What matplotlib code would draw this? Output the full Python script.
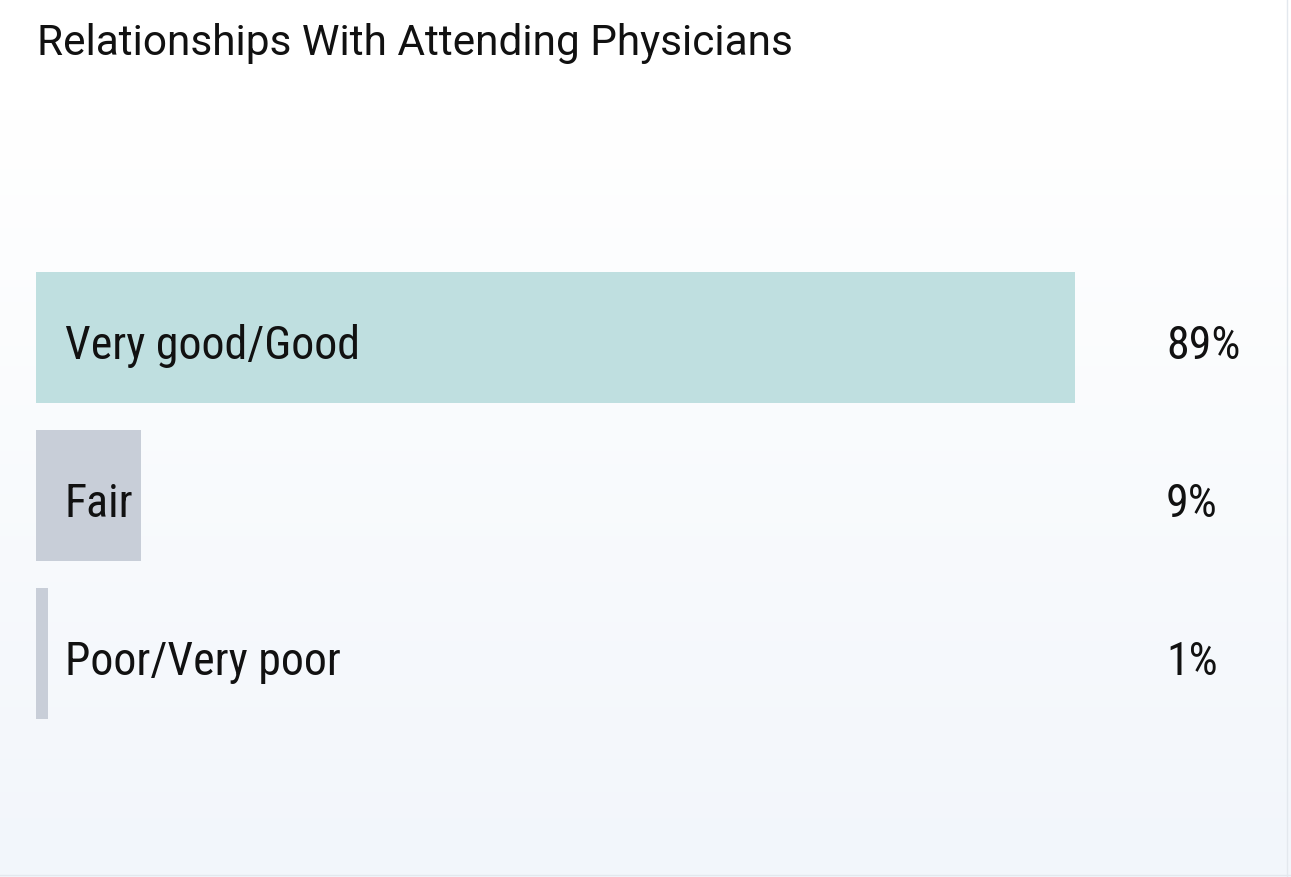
import numpy as np
import matplotlib
matplotlib.use("Agg")
import matplotlib.pyplot as plt

title = "Relationships With Attending Physicians"
categories = ["Very good/Good", "Fair", "Poor/Very poor"]
values = [89, 9, 1]
value_labels = ["89%", "9%", "1%"]
bar_colors = ["#bfdfe0", "#c8ced8", "#c8ced8"]

plt.rcParams['font.family'] = ['Roboto Condensed', 'Roboto', 'DejaVu Sans']

W, H = 1291, 878
fig = plt.figure(figsize=(W / 100, H / 100), dpi=100)

# background gradient
bg = fig.add_axes([0, 0, 1, 1], zorder=0)
grad = np.ones((H, 1, 3))
top = np.array([1.0, 1.0, 1.0])
bot = np.array([242, 246, 251]) / 255.0
for i in range(H):
    t = max(0.0, (i - 110) / (H - 110))
    grad[i, 0, :] = top * (1 - t) + bot * t
bg.imshow(grad, aspect='auto', extent=[0, W, H, 0])
bg.set_xlim(0, W)
bg.set_ylim(H, 0)
bg.axis('off')
bg.plot([W - 4, W - 4], [0, H], color="#e3e8ee", lw=1)
bg.plot([0, W], [H - 2, H - 2], color="#e3e8ee", lw=1)

x0_px, x1_px = 36, 1287
scale = (1075 - 36) / 89.0
xmax = (x1_px - x0_px) / scale
row_sp = 158.0
y_top_px, y_bot_px = 180, 810
ax = fig.add_axes([x0_px / W, 1 - y_bot_px / H, (x1_px - x0_px) / W, (y_bot_px - y_top_px) / H], zorder=1)
ax.patch.set_alpha(0)
y_c0 = 338
ylo = -(y_c0 - y_top_px) / row_sp
yhi = ylo + (y_bot_px - y_top_px) / row_sp
ax.set_ylim(yhi, ylo)
ax.set_xlim(0, xmax)

ypos = np.arange(len(categories))
ax.barh(ypos, values, height=131 / row_sp, color=bar_colors, edgecolor='none')
base_off = 21.5 / row_sp
for y, cat, lab in zip(ypos, categories, value_labels):
    ax.text((65 - 36) / scale, y + base_off, cat, ha='left', va='baseline', fontsize=33, color='#111111')
    ax.text((1166 - 36) / scale, y + base_off, lab, ha='left', va='baseline', fontsize=33, color='#111111')
ax.axis('off')

fig.text(37 / W, 1 - 55 / H, title, ha='left', va='baseline', fontsize=30.5,
         family=['Roboto', 'DejaVu Sans'], color='#111111')

fig.savefig("out.png", dpi=100)
